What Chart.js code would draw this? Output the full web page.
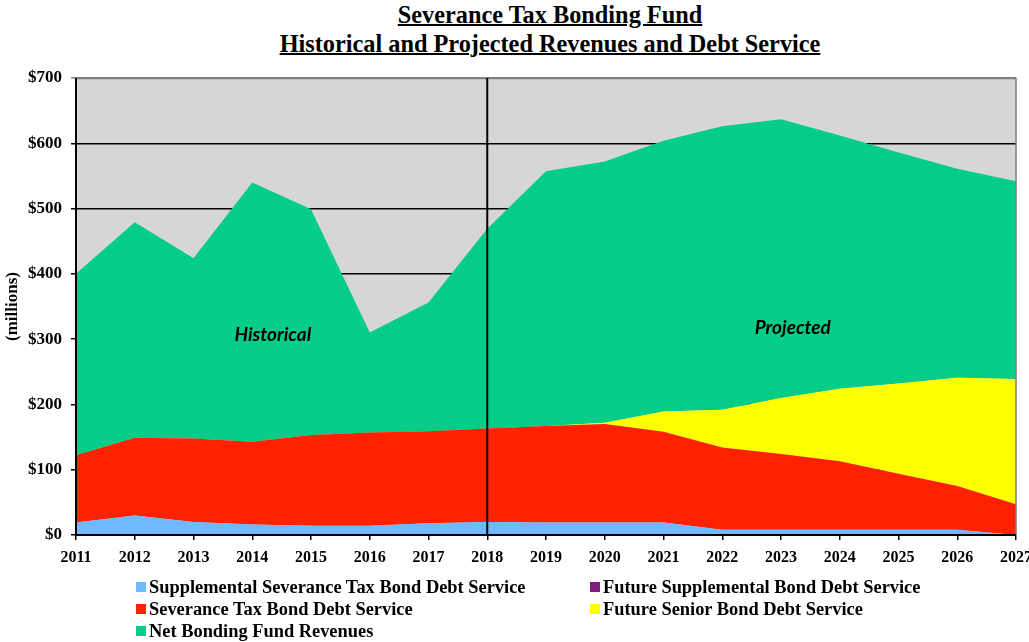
<!DOCTYPE html>
<html>
<head>
<meta charset="utf-8">
<script src="https://cdn.jsdelivr.net/npm/chart.js@4/dist/chart.umd.min.js"></script>
<style>
  html, body { margin: 0; padding: 0; background: #fff; overflow: hidden; width: 1029px; height: 642px; }
  #wrap { position: relative; width: 1029px; height: 642px; overflow: hidden; }
  #chart { position: absolute; left: 0; top: 0; }
  .title { position: absolute; left: 550px; transform: translateX(-50%); font: bold 24.3px "Liberation Serif"; text-decoration: underline; text-decoration-thickness: 2px; white-space: nowrap; color: #000; }
  .leg { position: absolute; font: bold 18.4px "Liberation Serif"; white-space: nowrap; color: #000; line-height: 20px; }
  .leg i { display: inline-block; width: 10px; height: 10px; margin-right: 3px; vertical-align: 1px; }
</style>
</head>
<body>
<div id="wrap">
  <div class="title" style="top:1px">Severance Tax Bonding Fund</div>
  <div class="title" style="top:30px">Historical and Projected Revenues and Debt Service</div>
  <canvas id="chart" width="1040" height="642"></canvas>
  <div id="legend"></div>
</div>
<script>
// years on the x axis
const years = ['2011','2012','2013','2014','2015','2016','2017','2018','2019','2020','2021','2022','2023','2024','2025','2026','2027'];

// $ millions (stacked bottom to top)
const supplementalDebt = [19, 30, 20, 16, 14, 14, 18, 20, 19, 19, 19, 8, 8, 8, 8, 8, 0];
const severanceDebt    = [103, 119, 128, 127, 139, 143, 141, 143, 148, 151, 139, 126, 116, 105, 86, 67, 47];
const futureSuppDebt   = [0, 0, 0, 0, 0, 0, 0, 0, 0, 0, 0, 0, 0, 0, 0, 0, 0];
const futureSeniorDebt = [0, 0, 0, 0, 0, 0, 0, 0, 0, 2, 31, 58, 86, 111, 138, 166, 192];
const netRevenues      = [278, 330, 276, 397, 346, 153, 197, 306, 390, 400, 415, 434, 427, 388, 354, 320, 303];

const yTicks = [0, 100, 200, 300, 400, 500, 600, 700];

const series = [
  { label: 'Supplemental Severance Tax Bond Debt Service', data: supplementalDebt, color: '#70b8ff' },
  { label: 'Severance Tax Bond Debt Service', data: severanceDebt, color: '#ff2200' },
  { label: 'Future Supplemental Bond Debt Service', data: futureSuppDebt, color: '#7f1a7f' },
  { label: 'Future Senior Bond Debt Service', data: futureSeniorDebt, color: '#ffff00' },
  { label: 'Net Bonding Fund Revenues', data: netRevenues, color: '#03cd87' },
];

// where the two region notes sit (category index, $ value)
const notes = [
  { text: 'Historical', x: 3.35, y: 306 },
  { text: 'Projected', x: 12.2, y: 317 },
];
const dividerYear = '2018';

const frame = {
  id: 'frame',
  beforeDraw(chart) {
    const { ctx, chartArea: a } = chart;
    ctx.save();
    ctx.fillStyle = '#d6d6d6';
    ctx.fillRect(a.left, a.top, a.right - a.left, a.bottom - a.top);
    ctx.restore();
  },
  afterDatasetsDraw(chart) {
    const { ctx, chartArea: a, scales } = chart;
    ctx.save();
    // top / right border
    ctx.strokeStyle = '#808080';
    ctx.lineWidth = 1.5;
    ctx.beginPath();
    ctx.moveTo(a.left, a.top + 0.5);
    ctx.lineTo(a.right, a.top + 0.5);
    ctx.lineTo(a.right, a.bottom);
    ctx.stroke();
    // axes
    ctx.strokeStyle = '#000';
    ctx.lineWidth = 2;
    ctx.beginPath();
    ctx.moveTo(a.left, a.top);
    ctx.lineTo(a.left, a.bottom);
    ctx.lineTo(a.right, a.bottom);
    ctx.stroke();
    // historical / projected divider
    const xd = scales.x.getPixelForValue(years.indexOf(dividerYear));
    ctx.beginPath();
    ctx.moveTo(xd, a.top);
    ctx.lineTo(xd, a.bottom);
    ctx.stroke();
    // notes
    ctx.fillStyle = '#000';
    ctx.font = 'italic bold 19px Lato';
    ctx.textAlign = 'center';
    ctx.textBaseline = 'middle';
    notes.forEach(n => {
      ctx.fillText(n.text, scales.x.getPixelForValue(n.x), scales.y.getPixelForValue(n.y));
    });
    ctx.restore();
  }
};

const ctx = document.getElementById('chart');
new Chart(ctx, {
  type: 'line',
  data: {
    labels: years,
    datasets: series.map((s, i) => ({
      label: s.label,
      data: s.data,
      backgroundColor: s.color,
      borderColor: s.color,
      borderWidth: 0,
      pointRadius: 0,
      tension: 0,
      fill: i === 0 ? 'origin' : '-1',
    })),
  },
  plugins: [frame],
  options: {
    responsive: false,
    animation: false,
    layout: { padding: { left: 0, right: 0, top: 78, bottom: 77 } },
    plugins: {
      legend: { display: false },
      title: { display: false },
      tooltip: { enabled: false },
    },
    scales: {
      x: {
        offset: false,
        grid: { display: true, drawOnChartArea: false, drawTicks: true, tickLength: 5, color: '#000', lineWidth: 1.5 },
        border: { display: false },
        ticks: {
          color: '#000',
          font: { family: 'Liberation Serif', weight: 'bold', size: 16 },
          padding: 8,
          maxRotation: 0,
          autoSkip: false,
        },
        afterFit: scale => { scale.height = 30; },
      },
      y: {
        stacked: true,
        min: 0,
        max: 700,
        afterBuildTicks: scale => { scale.ticks = yTicks.map(v => ({ value: v })); },
        grid: {
          color: c => (c.tick && c.tick.value === 700 ? '#808080' : '#000'),
          lineWidth: 1.5,
          tickLength: 5,
          drawTicks: true,
        },
        border: { display: false },
        ticks: {
          color: '#000',
          font: { family: 'Liberation Serif', weight: 'bold', size: 17 },
          padding: 9,
          callback: v => '$' + v,
        },
        title: {
          display: true,
          text: '(millions)',
          color: '#000',
          font: { family: 'Liberation Serif', weight: 'bold', size: 17 },
          padding: { top: 2, bottom: 0 },
        },
        afterFit: scale => { scale.width = 76; },
      },
    },
  },
});

// legend in two columns under the chart
const legendPos = [
  { left: 136, top: 577 },
  { left: 136, top: 599 },
  { left: 590, top: 577 },
  { left: 590, top: 599 },
  { left: 136, top: 621 },
];
const legendEl = document.getElementById('legend');
series.forEach((s, k) => {
  const d = document.createElement('div');
  d.className = 'leg';
  d.style.left = legendPos[k].left + 'px';
  d.style.top = legendPos[k].top + 'px';
  d.innerHTML = '<i style="background:' + s.color + '"></i>' + s.label;
  legendEl.appendChild(d);
});
</script>
</body>
</html>
